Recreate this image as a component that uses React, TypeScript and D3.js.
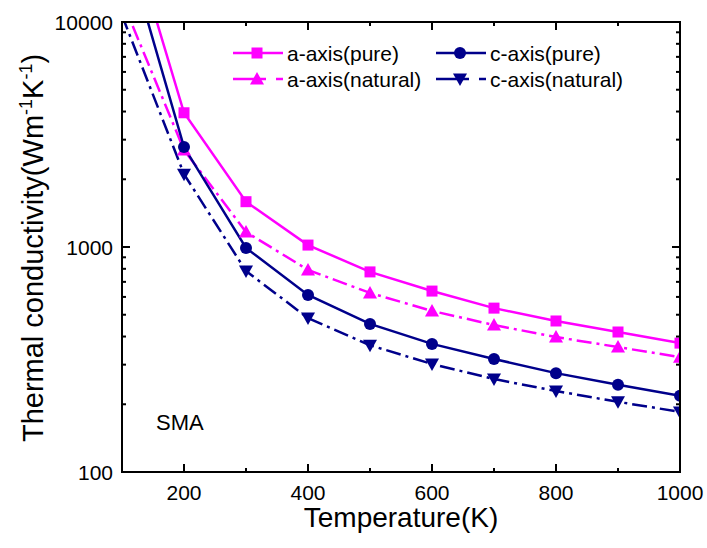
import React from "react";
import * as d3 from "d3";

const temps = [100, 200, 300, 400, 500, 600, 700, 800, 900, 1000];
const aPure = [33000, 3950, 1590, 1020, 775, 637, 535, 469, 419, 374];
const aNatural = [12500, 2700, 1166, 791, 625, 520, 450, 398, 359, 324];
const cPure = [25000, 2780, 991, 612, 455, 371, 318, 275, 244, 218];
const cNatural = [10700, 2108, 782, 483, 366, 302, 259, 229, 205, 185];

const xTicks = [200, 400, 600, 800, 1000];
const xMinorTicks = [100, 300, 500, 700, 900];
const yTicks = [100, 1000, 10000];

const MAGENTA = "#FF00FF";
const NAVY = "#00008B";

type Series = { name: string; values: number[]; color: string; dash: string; marker: string };
const series: Series[] = [
  { name: "a-axis(pure)", values: aPure, color: MAGENTA, dash: "", marker: "square" },
  { name: "a-axis(natural)", values: aNatural, color: MAGENTA, dash: "15,5,3,5", marker: "up" },
  { name: "c-axis(pure)", values: cPure, color: NAVY, dash: "", marker: "circle" },
  { name: "c-axis(natural)", values: cNatural, color: NAVY, dash: "15,5,3,5", marker: "down" },
];

const L = 122, R = 680, T = 22, B = 472;

function Marker({ kind, x, y, color }: { kind: string; x: number; y: number; color: string }) {
  if (kind === "square") return <rect x={x - 5.5} y={y - 5.5} width={11} height={11} fill={color} />;
  if (kind === "circle") return <circle cx={x} cy={y} r={6} fill={color} />;
  if (kind === "up")
    return <path d={`M${x},${y - 7}L${x + 7},${y + 5.5}L${x - 7},${y + 5.5}Z`} fill={color} />;
  return <path d={`M${x},${y + 7}L${x + 7},${y - 5.5}L${x - 7},${y - 5.5}Z`} fill={color} />;
}

export default function App() {
  const x = d3.scaleLinear().domain([100, 1000]).range([L, R]);
  const y = d3.scaleLog().domain([100, 10000]).range([B, T]);
  const line = d3
    .line<number>()
    .x((_, i) => x(temps[i]))
    .y((v) => y(v));

  const yMinor: number[] = [];
  for (const dec of [100, 1000]) for (let k = 2; k <= 9; k++) yMinor.push(dec * k);

  const font = "Arial, 'Liberation Sans', Helvetica, sans-serif";

  const legendRows = [
    { s: series[0], lx: 233, ly: 53 },
    { s: series[1], lx: 233, ly: 79 },
    { s: series[2], lx: 436, ly: 53 },
    { s: series[3], lx: 436, ly: 79 },
  ];

  return (
    <svg width={707} height={548} style={{ position: "absolute", left: 0, top: 0, background: "#fff" }} fontFamily={font}>
      <defs>
        <clipPath id="plot">
          <rect x={L} y={T} width={R - L} height={B - T} />
        </clipPath>
      </defs>
      <rect width={707} height={548} fill="#fff" />
      <g clipPath="url(#plot)">
        {series.map((s) => (
          <path key={s.name} d={line(s.values) || ""} fill="none" stroke={s.color} strokeWidth={2.5} strokeDasharray={s.dash} />
        ))}
        {series.map((s) =>
          s.values.map((v, i) => <Marker key={s.name + i} kind={s.marker} x={x(temps[i])} y={y(v)} color={s.color} />)
        )}
      </g>
      {/* frame */}
      <rect x={L} y={T} width={R - L} height={B - T} fill="none" stroke="#000" strokeWidth={2} />
      {/* x ticks */}
      {xTicks.map((t) => (
        <g key={"xt" + t}>
          <line x1={x(t)} x2={x(t)} y1={B} y2={B - 8} stroke="#000" strokeWidth={2} />
          <line x1={x(t)} x2={x(t)} y1={T} y2={T + 8} stroke="#000" strokeWidth={2} />
          <text x={x(t)} y={B + 28} textAnchor="middle" fontSize={21}>
            {t}
          </text>
        </g>
      ))}
      {xMinorTicks.map((t) => (
        <g key={"xm" + t}>
          <line x1={x(t)} x2={x(t)} y1={B} y2={B - 4} stroke="#000" strokeWidth={2} />
          <line x1={x(t)} x2={x(t)} y1={T} y2={T + 4} stroke="#000" strokeWidth={2} />
        </g>
      ))}
      {yTicks.map((t) => (
        <g key={"yt" + t}>
          <line x1={L} x2={L + 8} y1={y(t)} y2={y(t)} stroke="#000" strokeWidth={2} />
          <line x1={R} x2={R - 8} y1={y(t)} y2={y(t)} stroke="#000" strokeWidth={2} />
          <text x={L - 9} y={y(t) + 7.5} textAnchor="end" fontSize={21}>
            {t}
          </text>
        </g>
      ))}
      {yMinor.map((t) => (
        <g key={"ym" + t}>
          <line x1={L} x2={L + 4} y1={y(t)} y2={y(t)} stroke="#000" strokeWidth={2} />
          <line x1={R} x2={R - 4} y1={y(t)} y2={y(t)} stroke="#000" strokeWidth={2} />
        </g>
      ))}
      {/* axis titles */}
      <text x={401} y={527} textAnchor="middle" fontSize={28}>
        Temperature(K)
      </text>
      <text transform={`translate(43,248) rotate(-90)`} textAnchor="middle" fontSize={29}>
        Thermal conductivity(Wm
        <tspan dy={-11} fontSize={18}>-1</tspan>
        <tspan dy={11}>K</tspan>
        <tspan dy={-11} fontSize={18}>-1</tspan>
        <tspan dy={11}>)</tspan>
      </text>
      <text x={156} y={430} fontSize={22}>
        SMA
      </text>
      {/* legend */}
      {legendRows.map(({ s, lx, ly }) => (
        <g key={"lg" + s.name}>
          <line x1={lx} x2={lx + 50} y1={ly} y2={ly} stroke={s.color} strokeWidth={2.5} strokeDasharray={s.dash ? "33,10,7" : ""} />
          <Marker kind={s.marker} x={lx + 24} y={ly} color={s.color} />
          <text x={lx + 54} y={ly + 7.5} fontSize={21}>
            {s.name}
          </text>
        </g>
      ))}
    </svg>
  );
}
